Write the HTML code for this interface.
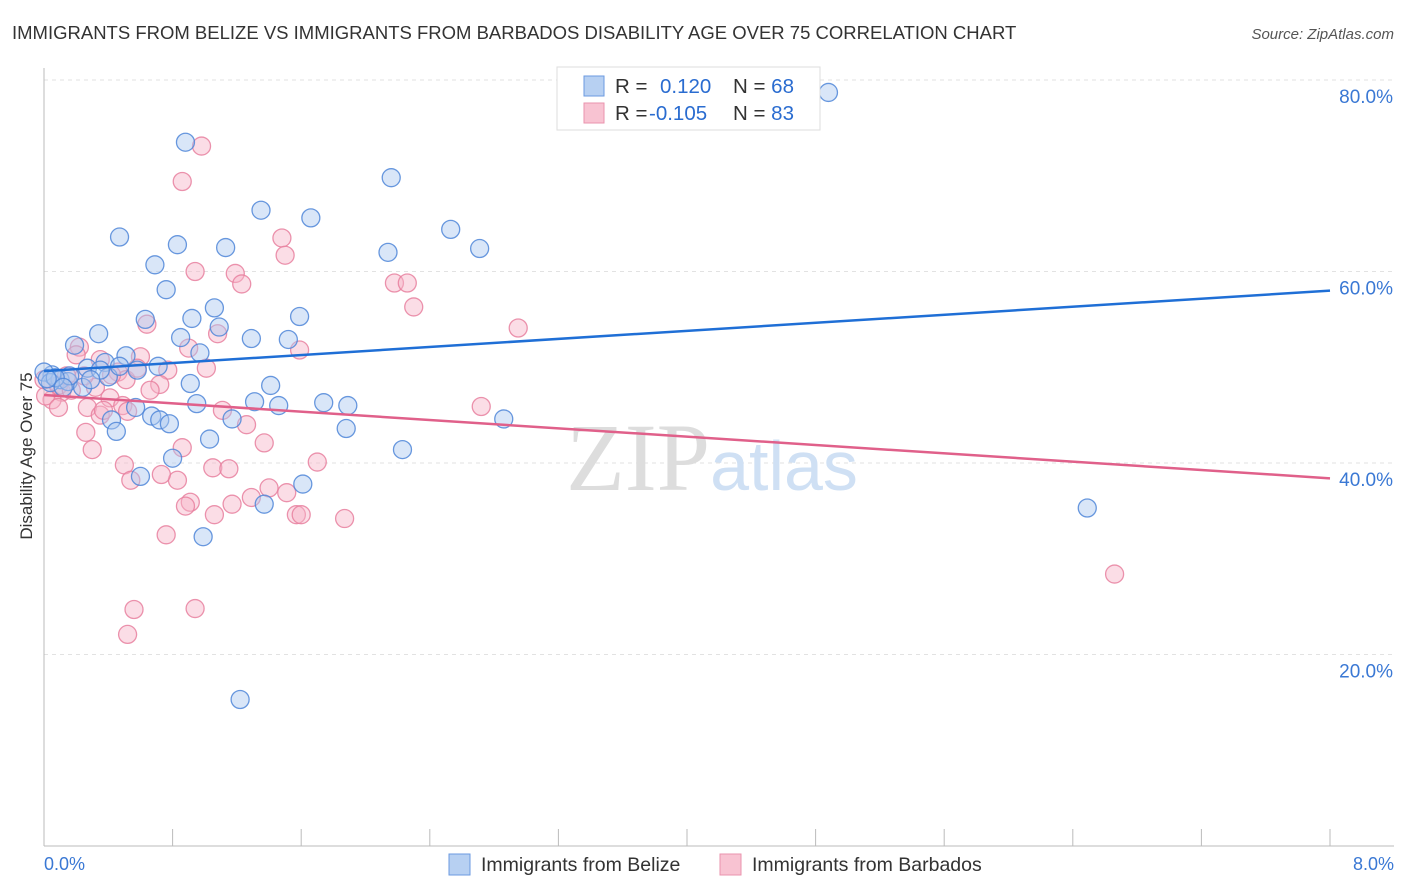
<!DOCTYPE html>
<html><head><meta charset="utf-8"><style>
body{margin:0;background:#fff;font-family:"Liberation Sans",sans-serif;}
#wrap{position:relative;width:1406px;height:892px;overflow:hidden;}
</style></head><body>
<div id="wrap">
<svg id="svg" width="1406" height="892" xmlns="http://www.w3.org/2000/svg">
<text x="12" y="39" font-size="18.5" fill="#333">IMMIGRANTS FROM BELIZE VS IMMIGRANTS FROM BARBADOS DISABILITY AGE OVER 75 CORRELATION CHART</text>
<text x="1394" y="39" font-size="15" fill="#555" text-anchor="end" font-style="italic">Source: ZipAtlas.com</text>
<text x="32" y="456" font-size="17" fill="#333" text-anchor="middle" transform="rotate(-90 32 456)">Disability Age Over 75</text>
<g id="grid"></g>
<text x="712" y="490" font-size="96" fill="#ddd" text-anchor="middle" font-family="Liberation Serif">ZIP<tspan fill="#cfe0f4" font-family="Liberation Sans" font-size="70">atlas</tspan></text>
<g id="marks"></g>
<g id="trends"></g>
<g>
<rect x="557" y="67" width="263" height="63" fill="#fff" stroke="#ddd"/>
<rect x="584" y="76" width="20" height="20" fill="#b7d0f2" stroke="#6b9ae0"/>
<rect x="584" y="103" width="20" height="20" fill="#f8c3d2" stroke="#ea93ad"/>
<text x="615" y="93" font-size="20.5" fill="#333">R = <tspan fill="#2a6cd0" x="660">0.120</tspan><tspan fill="#333" x="733">N = </tspan><tspan fill="#2a6cd0">68</tspan></text>
<text x="615" y="120" font-size="20.5" fill="#333">R = <tspan fill="#2a6cd0" x="649">-0.105</tspan><tspan fill="#333" x="733">N = </tspan><tspan fill="#2a6cd0">83</tspan></text>
</g>
<g>
<rect x="449" y="854" width="21" height="21" fill="#b7d0f2" stroke="#6b9ae0"/>
<text x="481" y="871" font-size="19.5" fill="#333">Immigrants from Belize</text>
<rect x="720" y="854" width="21" height="21" fill="#f8c3d2" stroke="#ea93ad"/>
<text x="752" y="871" font-size="19.5" fill="#333">Immigrants from Barbados</text>
</g>
<text x="44" y="870" font-size="18" fill="#3a78d4">0.0%</text>
<text x="1394" y="870" font-size="18" fill="#3a78d4" text-anchor="end">8.0%</text>
</svg>
</div>
<script>
const yTicks=[20,40,60,80];
const yTickLabels=["20.0%","40.0%","60.0%","80.0%"];
const xTicks=[0,0.8,1.6,2.4,3.2,4.0,4.8,5.6,6.4,7.2,8.0];
const belizeX=[4.88,0.88,2.16,1.35,1.66,0.47,2.53,0.83,1.13,2.14,2.71,0.69,0.76,1.06,0.63,0.92,1.59,0.34,1.09,0.85,1.29,1.52,0.19,0.97,0.51,0.38,0.71,0.58,0.27,0.05,0.10,0.0,0.04,0.15,0.24,0.91,1.41,0.40,0.57,1.31,1.46,1.74,1.89,0.95,0.67,0.72,0.78,0.42,1.17,0.45,1.88,1.03,2.86,2.23,0.80,0.60,1.61,1.37,6.49,0.99,1.22,0.35,0.16,0.07,0.12,0.29,0.47,0.02];
const belizeY=[78.7,73.5,69.8,66.4,65.6,63.6,64.4,62.8,62.5,62.0,62.4,60.7,58.1,56.2,55.0,55.1,55.3,53.5,54.2,53.1,53.0,52.9,52.3,51.5,51.2,50.5,50.1,49.7,49.9,49.2,48.7,49.5,48.4,48.5,47.9,48.3,48.1,49.0,45.8,46.4,46.0,46.3,46.0,46.2,44.9,44.5,44.1,44.5,44.6,43.3,43.6,42.5,44.6,41.4,40.5,38.6,37.8,35.7,35.3,32.3,15.3,49.7,49.1,48.9,47.9,48.7,50.1,48.8];
const barbX=[0.98,0.86,1.48,1.50,0.94,1.19,1.23,2.18,2.26,2.30,0.64,2.95,1.08,0.22,0.90,1.59,0.20,0.35,0.60,1.01,0.46,0.77,0.51,0.72,0.66,0.32,0.11,0.05,0.01,0.09,0.17,0.27,0.41,0.49,0.35,0.37,0.09,0.52,1.11,1.26,0.26,0.86,0.30,1.37,0.50,1.05,1.15,1.70,0.54,0.83,0.73,0.91,0.88,1.40,1.51,1.17,1.29,1.06,1.57,1.60,1.87,0.76,2.72,6.66,0.56,0.94,0.52,0.0,0.14,0.25,0.42,0.58];
const barbY=[73.1,69.4,63.5,61.7,60.0,59.8,58.7,58.8,58.8,56.3,54.5,54.1,53.5,52.1,52.0,51.8,51.3,50.8,51.1,49.9,49.5,49.7,48.7,48.2,47.6,47.9,47.4,46.6,47.0,48.1,47.6,45.8,46.8,46.0,45.0,45.5,45.8,45.4,45.5,44.0,43.2,41.6,41.4,42.1,39.8,39.5,39.4,40.1,38.2,38.2,38.8,35.9,35.5,37.4,36.9,35.7,36.4,34.6,34.6,34.6,34.2,32.5,45.9,28.4,24.7,24.8,22.1,48.7,49.1,49.1,49.2,49.9];
const trendBelize=[49.6,58.0];
const trendBarb=[47.1,38.4];
const NS="http://www.w3.org/2000/svg";
const X0=44,X1=1330,Y0=846,Y80=80;
function sx(v){return X0+(v/8)*(X1-X0);}
function sy(v){return Y0-(v/80)*(Y0-Y80);}
function mk(tag,attrs,parent){const e=document.createElementNS(NS,tag);for(const k in attrs)e.setAttribute(k,attrs[k]);parent.appendChild(e);return e;}
const grid=document.getElementById('grid');
yTicks.forEach((t,i)=>{
  const l=mk('line',{x1:X0,x2:1394,y1:sy(t),y2:sy(t),stroke:'#e2e2e2','stroke-dasharray':'4,4'},grid);
  
  
  const tx=mk('text',{x:1393,y:sy(t)+23,'font-size':19,fill:'#3a78d4','text-anchor':'end'},grid);
  tx.textContent=yTickLabels[i];
  
  
});
const ax=mk('line',{x1:X0,x2:X0,y1:68,y2:Y0,stroke:'#bbb'},grid);


const bx=mk('line',{x1:X0,x2:1394,y1:Y0,y2:Y0,stroke:'#bbb'},grid);


xTicks.forEach(t=>{
  const l=mk('line',{x1:sx(t),x2:sx(t),y1:Y0,y2:Y0-17,stroke:'#bbb'},grid);
  
  
});
const marks=document.getElementById('marks');
function pts(xs,ys,fill,stroke,name){
  xs.forEach((x,i)=>{
    const c=mk('circle',{cx:sx(x),cy:sy(ys[i]),r:9,fill:fill,'fill-opacity':0.45,stroke:stroke,'stroke-width':1.3,'stroke-opacity':0.85},marks);
    
    
  });
}
pts(barbX,barbY,'#f7b3c7','#e8809f','barbados-point');
pts(belizeX,belizeY,'#aac8f0','#4f86d8','belize-point');
const tr=document.getElementById('trends');
const t1=mk('line',{x1:sx(0),y1:sy(trendBelize[0]),x2:sx(8),y2:sy(trendBelize[1]),stroke:'#1f6fd6','stroke-width':2.5},tr);


const t2=mk('line',{x1:sx(0),y1:sy(trendBarb[0]),x2:sx(8),y2:sy(trendBarb[1]),stroke:'#e0608a','stroke-width':2.5},tr);


</script>
</body></html>
